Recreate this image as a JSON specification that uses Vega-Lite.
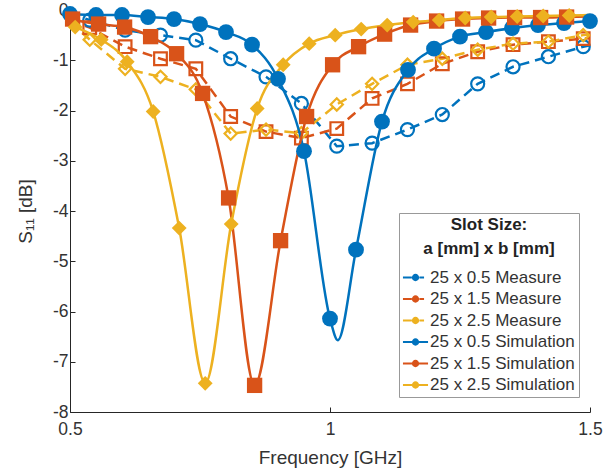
{
  "$schema": "https://vega.github.io/schema/vega-lite/v6.json",
  "width": 520,
  "height": 402,
  "autosize": {"type": "none"},
  "padding": {"left": 70, "top": 10, "right": 25, "bottom": 62},
  "background": "white",
  "config": {
    "font": "Liberation Sans",
    "view": {"stroke": null},
    "axis": {"grid": false, "domainColor": "#262626", "tickColor": "#262626", "labelColor": "#333333", "titleColor": "#333333", "labelFontSize": 17.5, "titleFontSize": 19, "titleFontWeight": "normal"}
  },
  "data": {"values": [
    {"s":"25 x 0.5 Measure","g":"0.5","t":"M","f":0.5,"v":-0.08,"m":0},
    {"s":"25 x 0.5 Measure","g":"0.5","t":"M","f":0.538,"v":-0.2,"m":1},
    {"s":"25 x 0.5 Measure","g":"0.5","t":"M","f":0.606,"v":-0.4,"m":1},
    {"s":"25 x 0.5 Measure","g":"0.5","t":"M","f":0.674,"v":-0.5,"m":1},
    {"s":"25 x 0.5 Measure","g":"0.5","t":"M","f":0.742,"v":-0.6,"m":1},
    {"s":"25 x 0.5 Measure","g":"0.5","t":"M","f":0.809,"v":-0.97,"m":1},
    {"s":"25 x 0.5 Measure","g":"0.5","t":"M","f":0.877,"v":-1.33,"m":1},
    {"s":"25 x 0.5 Measure","g":"0.5","t":"M","f":0.945,"v":-1.86,"m":1},
    {"s":"25 x 0.5 Measure","g":"0.5","t":"M","f":1.013,"v":-2.71,"m":1},
    {"s":"25 x 0.5 Measure","g":"0.5","t":"M","f":1.081,"v":-2.65,"m":1},
    {"s":"25 x 0.5 Measure","g":"0.5","t":"M","f":1.149,"v":-2.38,"m":1},
    {"s":"25 x 0.5 Measure","g":"0.5","t":"M","f":1.216,"v":-2.08,"m":1},
    {"s":"25 x 0.5 Measure","g":"0.5","t":"M","f":1.284,"v":-1.47,"m":1},
    {"s":"25 x 0.5 Measure","g":"0.5","t":"M","f":1.352,"v":-1.13,"m":1},
    {"s":"25 x 0.5 Measure","g":"0.5","t":"M","f":1.42,"v":-0.93,"m":1},
    {"s":"25 x 0.5 Measure","g":"0.5","t":"M","f":1.487,"v":-0.73,"m":1},
    {"s":"25 x 0.5 Measure","g":"0.5","t":"M","f":1.5,"v":-0.7,"m":0},

    {"s":"25 x 1.5 Measure","g":"1.5","t":"M","f":0.5,"v":-0.2,"m":0},
    {"s":"25 x 1.5 Measure","g":"1.5","t":"M","f":0.538,"v":-0.35,"m":1},
    {"s":"25 x 1.5 Measure","g":"1.5","t":"M","f":0.606,"v":-0.73,"m":1},
    {"s":"25 x 1.5 Measure","g":"1.5","t":"M","f":0.674,"v":-0.97,"m":1},
    {"s":"25 x 1.5 Measure","g":"1.5","t":"M","f":0.742,"v":-1.17,"m":1},
    {"s":"25 x 1.5 Measure","g":"1.5","t":"M","f":0.809,"v":-2.12,"m":1},
    {"s":"25 x 1.5 Measure","g":"1.5","t":"M","f":0.877,"v":-2.42,"m":1},
    {"s":"25 x 1.5 Measure","g":"1.5","t":"M","f":0.945,"v":-2.55,"m":1},
    {"s":"25 x 1.5 Measure","g":"1.5","t":"M","f":1.013,"v":-2.36,"m":1},
    {"s":"25 x 1.5 Measure","g":"1.5","t":"M","f":1.081,"v":-1.76,"m":1},
    {"s":"25 x 1.5 Measure","g":"1.5","t":"M","f":1.149,"v":-1.47,"m":1},
    {"s":"25 x 1.5 Measure","g":"1.5","t":"M","f":1.216,"v":-1.07,"m":1},
    {"s":"25 x 1.5 Measure","g":"1.5","t":"M","f":1.284,"v":-0.83,"m":1},
    {"s":"25 x 1.5 Measure","g":"1.5","t":"M","f":1.352,"v":-0.69,"m":1},
    {"s":"25 x 1.5 Measure","g":"1.5","t":"M","f":1.42,"v":-0.63,"m":1},
    {"s":"25 x 1.5 Measure","g":"1.5","t":"M","f":1.487,"v":-0.57,"m":1},
    {"s":"25 x 1.5 Measure","g":"1.5","t":"M","f":1.5,"v":-0.56,"m":0},

    {"s":"25 x 2.5 Measure","g":"2.5","t":"M","f":0.5,"v":-0.25,"m":0},
    {"s":"25 x 2.5 Measure","g":"2.5","t":"M","f":0.538,"v":-0.59,"m":1},
    {"s":"25 x 2.5 Measure","g":"2.5","t":"M","f":0.606,"v":-1.17,"m":1},
    {"s":"25 x 2.5 Measure","g":"2.5","t":"M","f":0.674,"v":-1.33,"m":1},
    {"s":"25 x 2.5 Measure","g":"2.5","t":"M","f":0.742,"v":-1.58,"m":1},
    {"s":"25 x 2.5 Measure","g":"2.5","t":"M","f":0.809,"v":-2.46,"m":1},
    {"s":"25 x 2.5 Measure","g":"2.5","t":"M","f":0.877,"v":-2.38,"m":1},
    {"s":"25 x 2.5 Measure","g":"2.5","t":"M","f":0.945,"v":-2.45,"m":1},
    {"s":"25 x 2.5 Measure","g":"2.5","t":"M","f":1.013,"v":-1.88,"m":1},
    {"s":"25 x 2.5 Measure","g":"2.5","t":"M","f":1.081,"v":-1.47,"m":1},
    {"s":"25 x 2.5 Measure","g":"2.5","t":"M","f":1.149,"v":-1.09,"m":1},
    {"s":"25 x 2.5 Measure","g":"2.5","t":"M","f":1.216,"v":-0.97,"m":1},
    {"s":"25 x 2.5 Measure","g":"2.5","t":"M","f":1.284,"v":-0.79,"m":1},
    {"s":"25 x 2.5 Measure","g":"2.5","t":"M","f":1.352,"v":-0.67,"m":1},
    {"s":"25 x 2.5 Measure","g":"2.5","t":"M","f":1.42,"v":-0.63,"m":1},
    {"s":"25 x 2.5 Measure","g":"2.5","t":"M","f":1.487,"v":-0.5,"m":1},
    {"s":"25 x 2.5 Measure","g":"2.5","t":"M","f":1.5,"v":-0.49,"m":0},

    {"s":"25 x 0.5 Simulation","g":"0.5","t":"S","f":0.5,"v":-0.08,"m":1},
    {"s":"25 x 0.5 Simulation","g":"0.5","t":"S","f":0.55,"v":-0.1,"m":1},
    {"s":"25 x 0.5 Simulation","g":"0.5","t":"S","f":0.6,"v":-0.1,"m":1},
    {"s":"25 x 0.5 Simulation","g":"0.5","t":"S","f":0.65,"v":-0.14,"m":1},
    {"s":"25 x 0.5 Simulation","g":"0.5","t":"S","f":0.7,"v":-0.18,"m":1},
    {"s":"25 x 0.5 Simulation","g":"0.5","t":"S","f":0.75,"v":-0.28,"m":1},
    {"s":"25 x 0.5 Simulation","g":"0.5","t":"S","f":0.8,"v":-0.44,"m":1},
    {"s":"25 x 0.5 Simulation","g":"0.5","t":"S","f":0.85,"v":-0.69,"m":1},
    {"s":"25 x 0.5 Simulation","g":"0.5","t":"S","f":0.9,"v":-1.37,"m":1},
    {"s":"25 x 0.5 Simulation","g":"0.5","t":"S","f":0.95,"v":-2.81,"m":1},
    {"s":"25 x 0.5 Simulation","g":"0.5","t":"S","f":1.0,"v":-6.14,"m":1},
    {"s":"25 x 0.5 Simulation","g":"0.5","t":"S","f":1.015,"v":-6.57,"m":0},
    {"s":"25 x 0.5 Simulation","g":"0.5","t":"S","f":1.05,"v":-4.77,"m":1},
    {"s":"25 x 0.5 Simulation","g":"0.5","t":"S","f":1.1,"v":-2.22,"m":1},
    {"s":"25 x 0.5 Simulation","g":"0.5","t":"S","f":1.15,"v":-1.19,"m":1},
    {"s":"25 x 0.5 Simulation","g":"0.5","t":"S","f":1.2,"v":-0.77,"m":1},
    {"s":"25 x 0.5 Simulation","g":"0.5","t":"S","f":1.25,"v":-0.53,"m":1},
    {"s":"25 x 0.5 Simulation","g":"0.5","t":"S","f":1.3,"v":-0.44,"m":1},
    {"s":"25 x 0.5 Simulation","g":"0.5","t":"S","f":1.35,"v":-0.36,"m":1},
    {"s":"25 x 0.5 Simulation","g":"0.5","t":"S","f":1.4,"v":-0.3,"m":1},
    {"s":"25 x 0.5 Simulation","g":"0.5","t":"S","f":1.45,"v":-0.26,"m":1},
    {"s":"25 x 0.5 Simulation","g":"0.5","t":"S","f":1.5,"v":-0.22,"m":1},

    {"s":"25 x 1.5 Simulation","g":"1.5","t":"S","f":0.5,"v":-0.16,"m":0},
    {"s":"25 x 1.5 Simulation","g":"1.5","t":"S","f":0.505,"v":-0.18,"m":1},
    {"s":"25 x 1.5 Simulation","g":"1.5","t":"S","f":0.555,"v":-0.28,"m":1},
    {"s":"25 x 1.5 Simulation","g":"1.5","t":"S","f":0.605,"v":-0.34,"m":1},
    {"s":"25 x 1.5 Simulation","g":"1.5","t":"S","f":0.655,"v":-0.53,"m":1},
    {"s":"25 x 1.5 Simulation","g":"1.5","t":"S","f":0.705,"v":-0.87,"m":1},
    {"s":"25 x 1.5 Simulation","g":"1.5","t":"S","f":0.755,"v":-1.66,"m":1},
    {"s":"25 x 1.5 Simulation","g":"1.5","t":"S","f":0.805,"v":-3.74,"m":1},
    {"s":"25 x 1.5 Simulation","g":"1.5","t":"S","f":0.855,"v":-7.47,"m":1},
    {"s":"25 x 1.5 Simulation","g":"1.5","t":"S","f":0.905,"v":-4.59,"m":1},
    {"s":"25 x 1.5 Simulation","g":"1.5","t":"S","f":0.955,"v":-2.12,"m":1},
    {"s":"25 x 1.5 Simulation","g":"1.5","t":"S","f":1.005,"v":-1.09,"m":1},
    {"s":"25 x 1.5 Simulation","g":"1.5","t":"S","f":1.055,"v":-0.73,"m":1},
    {"s":"25 x 1.5 Simulation","g":"1.5","t":"S","f":1.105,"v":-0.48,"m":1},
    {"s":"25 x 1.5 Simulation","g":"1.5","t":"S","f":1.155,"v":-0.3,"m":1},
    {"s":"25 x 1.5 Simulation","g":"1.5","t":"S","f":1.205,"v":-0.22,"m":1},
    {"s":"25 x 1.5 Simulation","g":"1.5","t":"S","f":1.255,"v":-0.18,"m":1},
    {"s":"25 x 1.5 Simulation","g":"1.5","t":"S","f":1.305,"v":-0.16,"m":1},
    {"s":"25 x 1.5 Simulation","g":"1.5","t":"S","f":1.355,"v":-0.15,"m":1},
    {"s":"25 x 1.5 Simulation","g":"1.5","t":"S","f":1.405,"v":-0.15,"m":1},
    {"s":"25 x 1.5 Simulation","g":"1.5","t":"S","f":1.455,"v":-0.14,"m":1},
    {"s":"25 x 1.5 Simulation","g":"1.5","t":"S","f":1.5,"v":-0.13,"m":0},

    {"s":"25 x 2.5 Simulation","g":"2.5","t":"S","f":0.5,"v":-0.3,"m":0},
    {"s":"25 x 2.5 Simulation","g":"2.5","t":"S","f":0.51,"v":-0.34,"m":1},
    {"s":"25 x 2.5 Simulation","g":"2.5","t":"S","f":0.56,"v":-0.59,"m":1},
    {"s":"25 x 2.5 Simulation","g":"2.5","t":"S","f":0.61,"v":-1.03,"m":1},
    {"s":"25 x 2.5 Simulation","g":"2.5","t":"S","f":0.66,"v":-2.02,"m":1},
    {"s":"25 x 2.5 Simulation","g":"2.5","t":"S","f":0.71,"v":-4.34,"m":1},
    {"s":"25 x 2.5 Simulation","g":"2.5","t":"S","f":0.76,"v":-7.43,"m":1},
    {"s":"25 x 2.5 Simulation","g":"2.5","t":"S","f":0.81,"v":-4.26,"m":1},
    {"s":"25 x 2.5 Simulation","g":"2.5","t":"S","f":0.86,"v":-1.96,"m":1},
    {"s":"25 x 2.5 Simulation","g":"2.5","t":"S","f":0.91,"v":-1.09,"m":1},
    {"s":"25 x 2.5 Simulation","g":"2.5","t":"S","f":0.96,"v":-0.67,"m":1},
    {"s":"25 x 2.5 Simulation","g":"2.5","t":"S","f":1.01,"v":-0.5,"m":1},
    {"s":"25 x 2.5 Simulation","g":"2.5","t":"S","f":1.06,"v":-0.38,"m":1},
    {"s":"25 x 2.5 Simulation","g":"2.5","t":"S","f":1.11,"v":-0.3,"m":1},
    {"s":"25 x 2.5 Simulation","g":"2.5","t":"S","f":1.16,"v":-0.24,"m":1},
    {"s":"25 x 2.5 Simulation","g":"2.5","t":"S","f":1.21,"v":-0.2,"m":1},
    {"s":"25 x 2.5 Simulation","g":"2.5","t":"S","f":1.26,"v":-0.16,"m":1},
    {"s":"25 x 2.5 Simulation","g":"2.5","t":"S","f":1.31,"v":-0.14,"m":1},
    {"s":"25 x 2.5 Simulation","g":"2.5","t":"S","f":1.36,"v":-0.13,"m":1},
    {"s":"25 x 2.5 Simulation","g":"2.5","t":"S","f":1.41,"v":-0.12,"m":1},
    {"s":"25 x 2.5 Simulation","g":"2.5","t":"S","f":1.46,"v":-0.11,"m":1},
    {"s":"25 x 2.5 Simulation","g":"2.5","t":"S","f":1.5,"v":-0.1,"m":0}
  ]},
  "encoding": {
    "x": {"field": "f", "type": "quantitative", "scale": {"domain": [0.5, 1.5], "nice": false},
      "axis": {"title": "Frequency [GHz]", "values": [0.5, 1, 1.5], "labelExpr": "'' + datum.value", "tickSize": -5, "labelPadding": 13, "titlePadding": 11, "labelFlush": false}},
    "y": {"field": "v", "type": "quantitative", "scale": {"domain": [-8, 0], "nice": false},
      "axis": {"title": "S₁₁ [dB]", "values": [-8, -7, -6, -5, -4, -3, -2, -1, 0], "labelExpr": "'' + datum.value", "tickSize": -5, "labelPadding": 7, "titlePadding": 17, "labelFlush": false}},
    "color": {"field": "s", "type": "nominal",
      "scale": {"domain": ["25 x 0.5 Measure", "25 x 1.5 Measure", "25 x 2.5 Measure", "25 x 0.5 Simulation", "25 x 1.5 Simulation", "25 x 2.5 Simulation"],
                "range": ["#0072BD", "#D95319", "#EDB120", "#0072BD", "#D95319", "#EDB120"]},
      "legend": {"orient": "none", "legendX": 329, "legendY": 203,
        "title": ["Slot Size:", "a [mm] x b [mm]"], "titleFontSize": 17, "titleFontWeight": "bold", "titleColor": "#222222",
        "titleAnchor": "middle", "titleAlign": "center", "titlePadding": 7, "titleLineHeight": 24,
        "labelFontSize": 17, "labelColor": "#333333", "labelOffset": 2, "rowPadding": 0.5,
        "padding": 4, "fillColor": "white", "strokeColor": "#999999",
        "symbolSize": 520,
        "encode": {"symbols": {"update": {
          "shape": {"signal": "indexof(datum.value,'Measure')>=0 ? 'M-1.1,0H-0.32M0.34,0H0.75M0.24,0A0.24,0.24 0 1 1 -0.24,0A0.24,0.24 0 1 1 0.24,0' : 'M-1.1,0H1.1M0.24,0A0.24,0.24 0 1 1 -0.24,0A0.24,0.24 0 1 1 0.24,0'"},
          "fill": {"signal": "indexof(datum.value,'Measure')>=0 ? 'white' : scale('color', datum.value)"},
          "stroke": {"signal": "scale('color', datum.value)"},
          "strokeWidth": {"value": 1.8},
          "opacity": {"value": 1}
        }}}}}
  },
  "layer": [
    {"transform": [{"filter": "datum.t == 'M'"}],
     "mark": {"type": "line", "strokeWidth": 2.5, "strokeDash": [10, 6]}},
    {"transform": [{"filter": "datum.t == 'M' && datum.m == 1"}],
     "mark": {"type": "point", "filled": false, "strokeWidth": 2.2, "opacity": 1},
     "encoding": {
       "shape": {"field": "g", "type": "nominal", "scale": {"domain": ["0.5", "1.5", "2.5"], "range": ["circle", "square", "diamond"]}, "legend": null},
       "size": {"field": "g", "type": "nominal", "scale": {"domain": ["0.5", "1.5", "2.5"], "range": [170, 150, 230]}, "legend": null}}},
    {"transform": [{"filter": "datum.t == 'S'"}],
     "mark": {"type": "line", "strokeWidth": 2.5, "interpolate": "monotone"}},
    {"transform": [{"filter": "datum.t == 'S' && datum.m == 1"}],
     "mark": {"type": "point", "filled": true, "opacity": 1},
     "encoding": {
       "shape": {"field": "g", "type": "nominal", "scale": {"domain": ["0.5", "1.5", "2.5"], "range": ["circle", "square", "diamond"]}, "legend": null},
       "size": {"field": "g", "type": "nominal", "scale": {"domain": ["0.5", "1.5", "2.5"], "range": [250, 220, 400]}, "legend": null}}}
  ],
  "resolve": {"scale": {"size": "independent"}}
}
